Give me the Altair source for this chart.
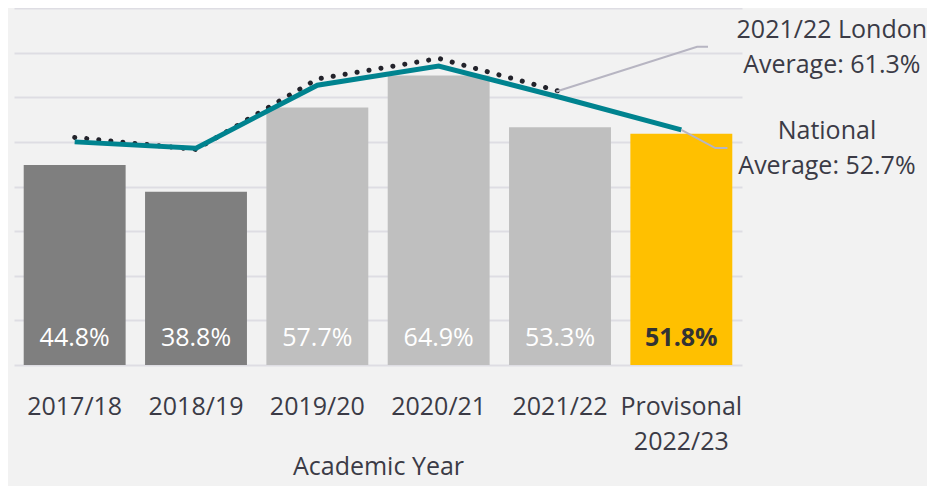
import altair as alt
import pandas as pd

# ---- data ----
categories = ["2017/18", "2018/19", "2019/20", "2020/21", "2021/22", "Provisonal|2022/23"]
bar_values = [44.8, 38.8, 57.7, 64.9, 53.3, 51.8]
bar_groups = ["older", "older", "recent", "recent", "recent", "provisional"]
national_values = [50.0, 48.6, 62.7, 67.0, 60.0, 52.7]
london_values = [51.0, 48.3, 64.1, 68.7, 61.3]
grid_values = [0, 10, 20, 30, 40, 50, 60, 70, 80]

# annotations (label text, anchor value, label centre / elbow in category units)
london_note = "2021/22 London|Average: 61.3%"
national_note = "National|Average: 52.7%"
london_leader_x = [4.47, 5.63, 5.72]
london_leader_y = [61.3, 71.3, 71.3]
national_leader_x = [5.5, 5.78, 5.88]
national_leader_y = [52.7, 48.6, 48.6]
london_text_pos = (6.74, 71.3)
national_text_pos = (6.70, 48.6)

FONT = "Open Sans"
TXT = "#3b3b46"

bars_df = pd.DataFrame({"cat": categories, "value": bar_values, "group": bar_groups})
bars_df["label"] = [f"{v}%" for v in bar_values]
nat_df = pd.DataFrame({"cat": categories, "value": national_values})
lon_df = pd.DataFrame({"cat": categories[:len(london_values)], "value": london_values})

x_enc = alt.X(
    "cat:N", sort=categories, title="Academic Year",
    scale=alt.Scale(paddingInner=0.16, paddingOuter=0.08),
    axis=alt.Axis(labelAngle=0, labelExpr="split(datum.label, '|')", labelFont=FONT,
                  labelFontSize=25, labelColor=TXT, labelLineHeight=35, labelBaseline="top",
                  labelPadding=29, ticks=False, domain=False, grid=False,
                  titleFont=FONT, titleFontSize=25, titleColor=TXT, titleFontWeight="normal",
                  titlePadding=0),
)
y_scale = alt.Scale(domain=[0, 80], nice=False)
y_axis = alt.Axis(values=grid_values, labels=False, ticks=False, domain=False,
                  title=None, grid=True, gridColor="#dedde3", gridWidth=2)
y_enc = alt.Y("value:Q", scale=y_scale, axis=y_axis)

bars = alt.Chart(bars_df).mark_bar().encode(
    x=x_enc, y=y_enc,
    color=alt.Color("group:N", legend=None,
                    scale=alt.Scale(domain=["older", "recent", "provisional"],
                                    range=["#7f7f7f", "#bfbfbf", "#ffc000"])),
)

labels_white = alt.Chart(bars_df).transform_filter(alt.datum.group != "provisional").mark_text(
    font=FONT, fontSize=25, color="white", baseline="middle", yOffset=-27
).encode(x=alt.X("cat:N", sort=categories), y=alt.datum(0), text="label:N")

labels_bold = alt.Chart(bars_df).transform_filter(alt.datum.group == "provisional").mark_text(
    font=FONT, fontSize=25, color="#333333", fontWeight="bold", baseline="middle", yOffset=-27
).encode(x=alt.X("cat:N", sort=categories), y=alt.datum(0), text="label:N")

london = alt.Chart(lon_df).mark_line(
    color="#23232b", strokeWidth=5, strokeCap="round", strokeDash=[0.1, 12]
).encode(x=alt.X("cat:N", sort=categories), y=alt.Y("value:Q", scale=y_scale, axis=y_axis))

national = alt.Chart(nat_df).mark_line(
    color="#00838f", strokeWidth=5, strokeJoin="miter"
).encode(x=alt.X("cat:N", sort=categories), y=alt.Y("value:Q", scale=y_scale, axis=y_axis))

main = alt.layer(bars, labels_white, labels_bold, london, national)

# annotation layer on a linear scale aligned with the band centres (i + 0.5)
xq = alt.X("px:Q", scale=alt.Scale(domain=[0, 6], nice=False, zero=False), axis=None)
yq = alt.Y("value:Q", scale=y_scale, axis=y_axis)

lead_df = pd.DataFrame({
    "px": london_leader_x + national_leader_x,
    "value": london_leader_y + national_leader_y,
    "grp": ["lon"] * 3 + ["nat"] * 3,
    "ord": [0, 1, 2, 0, 1, 2],
})
leaders = alt.Chart(lead_df).mark_line(color="#b7b5c2", strokeWidth=2, clip=False).encode(
    x=xq, y=yq, detail="grp:N", order="ord:Q")

note_df = pd.DataFrame({
    "px": [london_text_pos[0], national_text_pos[0]],
    "value": [london_text_pos[1], national_text_pos[1]],
    "text": [london_note.split("|"), national_note.split("|")],
})
notes = alt.Chart(note_df).mark_text(
    font=FONT, fontSize=25, color=TXT, align="center", baseline="middle", lineHeight=35,
    dy=-17, clip=False
).encode(x=xq, y=yq, text="text")

ann = alt.layer(leaders, notes)

chart = alt.layer(main, ann).resolve_scale(x="independent").properties(
    width=728, height=357,
    autosize=alt.AutoSizeParams(type="none"),
    padding={"left": 6, "top": 0, "right": 185, "bottom": 121},
    background="#f2f2f2",
).configure_view(stroke=None)

chart.save("out.html", embed_options={"renderer": "svg", "actions": False})
